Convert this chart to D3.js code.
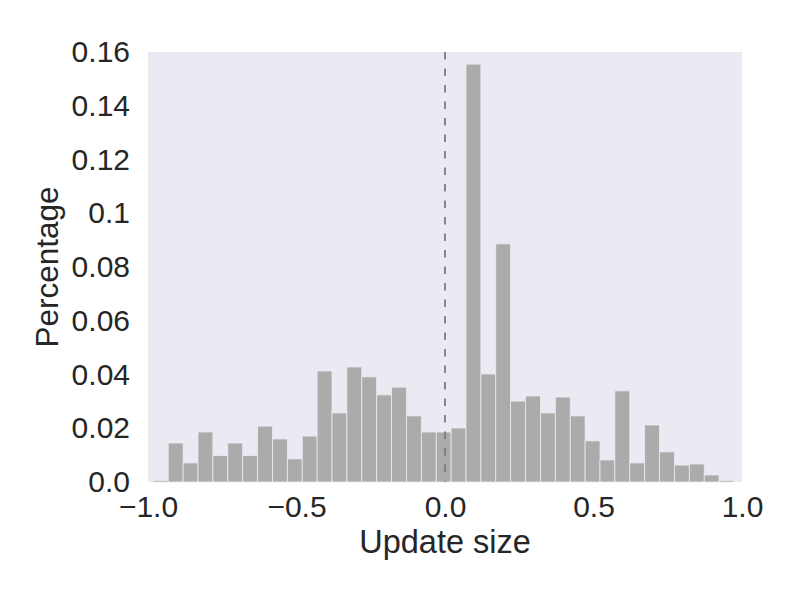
<!DOCTYPE html>
<html>
<head>
<meta charset="utf-8">
<script src="https://cdn.jsdelivr.net/npm/d3@7"></script>
<style>
  body { margin: 0; background: #fff; }
  svg { display: block; }
</style>
</head>
<body>
<div id="corpo"></div>
<script>
// histogram of update sizes, 39 bins between binLo and binHi
var binLo = -0.982;
var binHi = 0.973;
var percent = [
    0.0006, 0.0145, 0.0071, 0.0186, 0.0098, 0.0145, 0.0098, 0.0208, 0.0160, 0.0086,
    0.0171, 0.0413, 0.0257, 0.0428, 0.0391, 0.0324, 0.0353, 0.0246, 0.0186, 0.0186,
    0.0201, 0.1555, 0.0402, 0.0886, 0.0301, 0.0320, 0.0257, 0.0316, 0.0246, 0.0153,
    0.0082, 0.0339, 0.0071, 0.0212, 0.0112, 0.0063, 0.0067, 0.0026, 0.0006
];
var xTicks = [-1, -0.5, 0, 0.5, 1];
var xTickLabels = ["\u22121.0", "\u22120.5", "0.0", "0.5", "1.0"];
var yTicks = [0, 0.02, 0.04, 0.06, 0.08, 0.1, 0.12, 0.14, 0.16];
var yTickLabels = ["0.0", "0.02", "0.04", "0.06", "0.08", "0.1", "0.12", "0.14", "0.16"];
var refLine = 0;

var width = 800, height = 600;
var margin = {top: 52, right: 58, bottom: 118, left: 148};
var font = "'Liberation Sans', Arial, sans-serif";

var binW = (binHi - binLo) / percent.length;
var bins = percent.map(function(v, i) {
    return {x0: binLo + i * binW, x1: binLo + (i + 1) * binW, valor: v};
});

var x = d3.scaleLinear().domain([-1, 1]).range([margin.left, width - margin.right]);
var y = d3.scaleLinear().domain([0, 0.16]).range([height - margin.bottom, margin.top]);

var svg = d3.select("#corpo").append("svg")
    .attr("width", width)
    .attr("height", height);

svg.append("rect")
    .attr("x", x(-1))
    .attr("y", y(0.16))
    .attr("width", x(1) - x(-1))
    .attr("height", y(0) - y(0.16))
    .style("fill", "#eaeaf2");

svg.selectAll(".bar")
    .data(bins)
    .enter().append("rect")
    .attr("class", "bar")
    .attr("x", function(d) { return x(d.x0); })
    .attr("y", function(d) { return y(d.valor); })
    .attr("width", function(d) { return x(d.x1) - x(d.x0); })
    .attr("height", function(d) { return y(0) - y(d.valor); })
    .style("fill", "#ababab")
    .style("stroke", "#eaeaf2")
    .style("stroke-width", 0.8);

svg.append("line")
    .attr("x1", x(refLine)).attr("x2", x(refLine))
    .attr("y1", y(0.16)).attr("y2", y(0))
    .style("stroke", "#777")
    .style("stroke-width", 1.7)
    .style("stroke-dasharray", "7.5,9");

var xAxis = d3.axisBottom(x)
    .tickValues(xTicks)
    .tickSize(0)
    .tickPadding(14)
    .tickFormat(function(d, i) { return xTickLabels[i]; });

var gx = svg.append("g")
    .attr("transform", "translate(0," + y(0) + ")")
    .call(xAxis);

var yAxis = d3.axisLeft(y)
    .tickValues(yTicks)
    .tickSize(0)
    .tickPadding(18)
    .tickFormat(function(d, i) { return yTickLabels[i]; });

var gy = svg.append("g")
    .attr("transform", "translate(" + x(-1) + ",0)")
    .call(yAxis);

[gx, gy].forEach(function(g) {
    g.select(".domain").remove();
    g.selectAll("text")
        .style("font-family", font)
        .style("font-size", "30px")
        .style("fill", "#262626");
});

svg.append("text")
    .attr("x", (x(-1) + x(1)) / 2)
    .attr("y", 553)
    .attr("text-anchor", "middle")
    .style("font-family", font)
    .style("font-size", "32.5px")
    .style("fill", "#262626")
    .text("Update size");

svg.append("text")
    .attr("transform", "translate(58," + (y(0) + y(0.16)) / 2 + ") rotate(-90)")
    .attr("text-anchor", "middle")
    .style("font-family", font)
    .style("font-size", "31.5px")
    .style("fill", "#262626")
    .text("Percentage");
</script>
</body>
</html>
